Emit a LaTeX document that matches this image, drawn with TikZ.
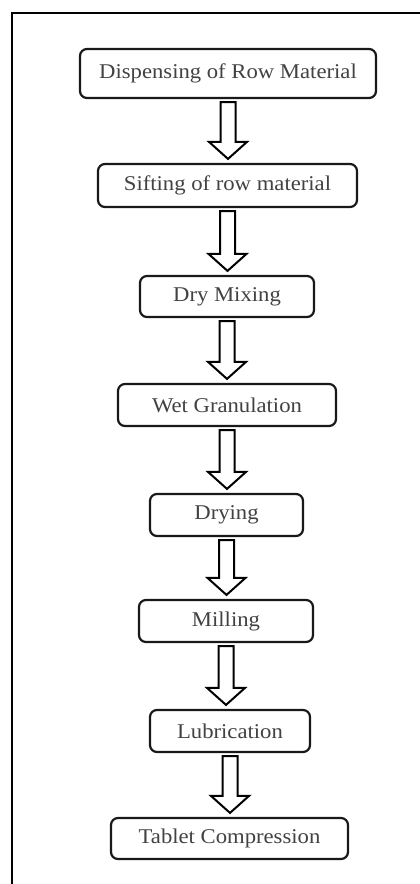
\documentclass[tikz,border=0pt]{standalone}
\usepackage{fontspec}
\setmainfont{Liberation Serif}[FakeStretch=1.08]
\usetikzlibrary{calc}
\definecolor{txtgrey}{rgb}{0.26,0.26,0.26}
\tikzset{
  stepbox/.style={draw=black!90, line width=2.2pt, rounded corners=7pt, fill=white,
    inner sep=0pt, text=txtgrey, font=\fontsize{21}{24}\selectfont},
  blockarrow/.style={draw=black, line width=2pt, fill=white, line join=miter},
  frameline/.style={draw=black, line width=2.6pt}
}
\newcommand{\flowarrow}[2]{%
  \path[blockarrow] let \p1=($(#1.south)+(0,3)$), \p2=($(#2.north)+(0,-4)$) in
    (\x1-7.5pt,\y1) -- (\x1+7.5pt,\y1) -- (\x1+7.5pt,\y2+17pt) -- (\x1+19pt,\y2+17pt)
    -- (\x1,\y2) -- (\x1-19pt,\y2+17pt) -- (\x1-7.5pt,\y2+17pt) -- cycle;}
\begin{document}
\begin{tikzpicture}[x=1pt,y=-1pt]
\useasboundingbox (0,0) rectangle (420,884);
\draw[frameline] (12,884) -- (12,13) -- (420,13);
\node[stepbox, minimum width=296, minimum height=49] (b1) at (228,73.5) {Dispensing of Row Material};
\node[stepbox, minimum width=259, minimum height=43] (b2) at (227.5,185.5) {Sifting of row material};
\node[stepbox, minimum width=174, minimum height=41] (b3) at (227,296.5) {Dry Mixing};
\node[stepbox, minimum width=218, minimum height=42] (b4) at (227,405) {Wet Granulation};
\node[stepbox, minimum width=153, minimum height=42] (b5) at (226.5,515) {Drying};
\node[stepbox, minimum width=174, minimum height=42] (b6) at (226,621) {Milling};
\node[stepbox, minimum width=160, minimum height=42] (b7) at (230,731) {Lubrication};
\node[stepbox, minimum width=237, minimum height=41] (b8) at (229.5,838.5) {Tablet Compression};
\flowarrow{b1}{b2}
\flowarrow{b2}{b3}
\flowarrow{b3}{b4}
\flowarrow{b4}{b5}
\flowarrow{b5}{b6}
\flowarrow{b6}{b7}
\flowarrow{b7}{b8}
\end{tikzpicture}
\end{document}
